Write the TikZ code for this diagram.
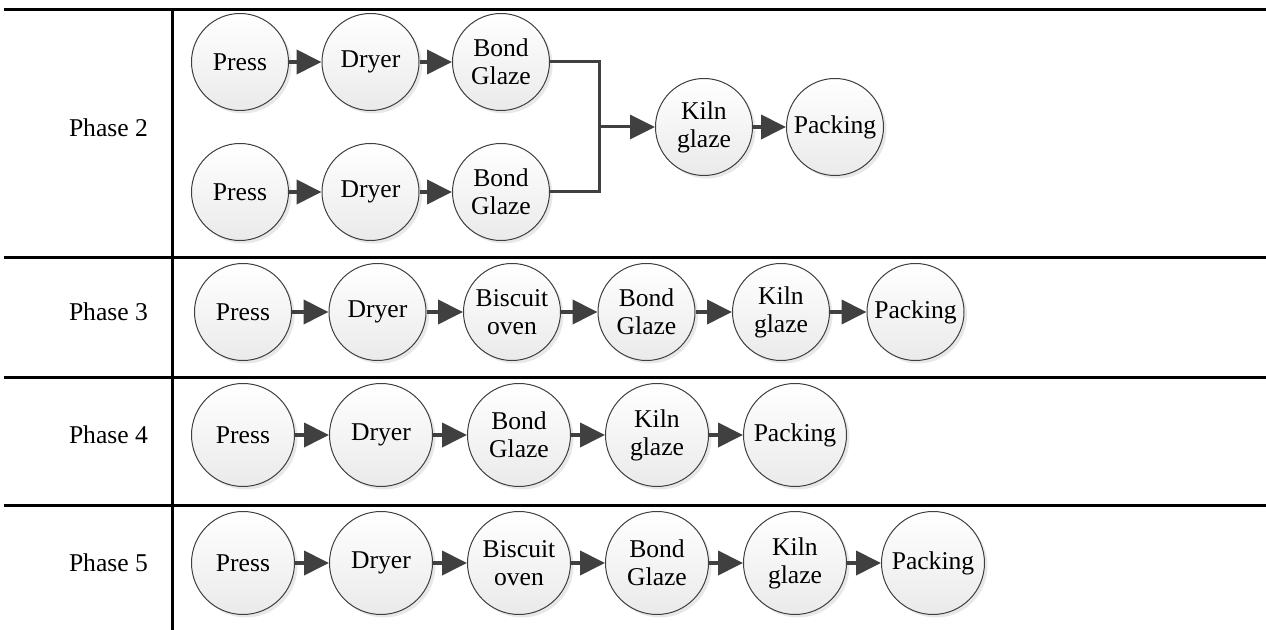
\documentclass[tikz,border=0pt]{standalone}
\usepackage{fontspec}
\setmainfont{Liberation Serif}
\usetikzlibrary{arrows.meta,shadows,positioning}

\definecolor{edgegray}{HTML}{3F3F3F}
\definecolor{arrowgray}{HTML}{404040}
\definecolor{fillgray}{HTML}{EAEAEA}
\newcommand{\stagefont}{\fontsize{12.8}{14}\selectfont}

\begin{document}
\begin{tikzpicture}[x=0.5pt, y=-0.5pt, font=\stagefont, align=center, node distance=67.25pt]
    \tikzstyle{stage}=[circle, draw=edgegray, line width=0.5pt, inner sep=0pt, minimum size=48.5pt,
        top color=white, bottom color=fillgray,
        drop shadow={shadow xshift=1.5pt, shadow yshift=-1.5pt, fill=black!15, opacity=0.6}];
    \tikzstyle{bigstage}=[stage, minimum size=51.5pt];
    \tikzstyle{flow}=[draw=arrowgray, line width=2pt, -{Triangle[length=12.5pt 0, width=12pt 0, fill=arrowgray]}];
    \tikzstyle{link}=[draw=arrowgray, line width=1.5pt];
    \tikzstyle{rule}=[draw=black, line width=1.5pt];

    \useasboundingbox (0,0) rectangle (1266,630);

    % table
    \draw[rule] (4,10) -- (1266,10);
    \draw[rule] (4,258) -- (1266,258);
    \draw[rule] (4,378) -- (1266,378);
    \draw[rule] (4,506) -- (1266,506);
    \draw[rule] (172,10) -- (172,630);

    \node (lab2) [anchor=east] at (155,128) {Phase 2};
    \node (lab3) [anchor=east] at (155,312) {Phase 3};
    \node (lab4) [anchor=east] at (155,435) {Phase 4};
    \node (lab5) [anchor=east] at (155,563) {Phase 5};

    % phase 2
    \node (p2a) [stage] at (240,62) {Press};
    \node (p2b) [stage, right of = p2a, node distance=65.25pt] {Dryer};
    \node (p2c) [stage, right of = p2b, node distance=65.25pt] {Bond\\Glaze};
    \node (p2d) [stage] at (240,192) {Press};
    \node (p2e) [stage, right of = p2d, node distance=65.25pt] {Dryer};
    \node (p2f) [stage, right of = p2e, node distance=65.25pt] {Bond\\Glaze};
    \node (p2g) [stage] at (704,127) {Kiln\\glaze};
    \node (p2h) [stage, right of = p2g, node distance=65.5pt] {Packing};
    \coordinate (join) at (599,127);

    \path[flow] (p2a) edge (p2b) (p2b) edge (p2c);
    \path[flow] (p2d) edge (p2e) (p2e) edge (p2f);
    \draw[link] (p2c.east) -| (join) |- (p2f.east);
    \draw[flow, line width=1.5pt] (join) -- (p2g);
    \draw[flow] (p2g) -- (p2h);

    % phase 3
    \node (p3a) [stage] at (243,312) {Press};
    \node (p3b) [stage, right of = p3a] {Dryer};
    \node (p3c) [stage, right of = p3b] {Biscuit\\oven};
    \node (p3d) [stage, right of = p3c] {Bond\\Glaze};
    \node (p3e) [stage, right of = p3d] {Kiln\\glaze};
    \node (p3f) [stage, right of = p3e] {Packing};

    \path[flow] (p3a) edge (p3b) (p3b) edge (p3c) (p3c) edge (p3d)
        (p3d) edge (p3e) (p3e) edge (p3f);

    % phase 4
    \node (p4a) [bigstage] at (243,435) {Press};
    \node (p4b) [bigstage, right of = p4a, node distance=69pt] {Dryer};
    \node (p4c) [bigstage, right of = p4b, node distance=69pt] {Bond\\Glaze};
    \node (p4d) [bigstage, right of = p4c, node distance=69pt] {Kiln\\glaze};
    \node (p4e) [bigstage, right of = p4d, node distance=69pt] {Packing};

    \path[flow] (p4a) edge (p4b) (p4b) edge (p4c) (p4c) edge (p4d) (p4d) edge (p4e);

    % phase 5
    \node (p5a) [bigstage] at (243,563) {Press};
    \node (p5b) [bigstage, right of = p5a, node distance=69pt] {Dryer};
    \node (p5c) [bigstage, right of = p5b, node distance=69pt] {Biscuit\\oven};
    \node (p5d) [bigstage, right of = p5c, node distance=69pt] {Bond\\Glaze};
    \node (p5e) [bigstage, right of = p5d, node distance=69pt] {Kiln\\glaze};
    \node (p5f) [bigstage, right of = p5e, node distance=69pt] {Packing};

    \path[flow] (p5a) edge (p5b) (p5b) edge (p5c) (p5c) edge (p5d)
        (p5d) edge (p5e) (p5e) edge (p5f);
\end{tikzpicture}
\end{document}
